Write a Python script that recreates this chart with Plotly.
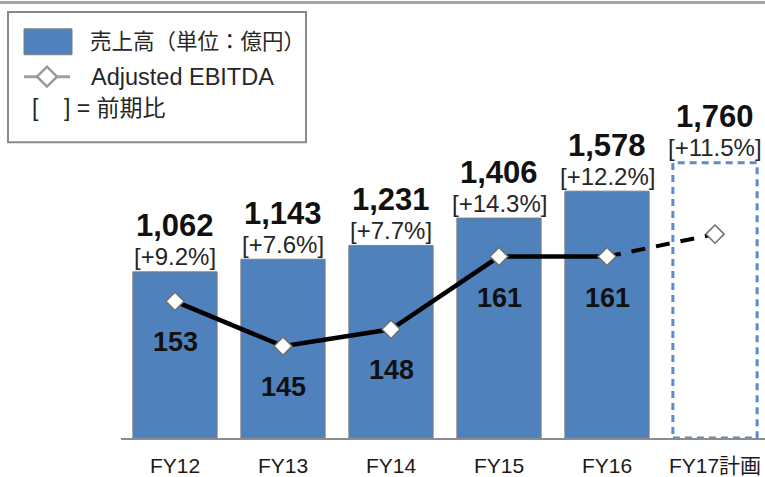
import plotly.graph_objects as go

# ---- data ----
years = ["FY12", "FY13", "FY14", "FY15", "FY16", "FY17計画"]
sales = [1062, 1143, 1231, 1406, 1578, 1760]
growth = ["+9.2%", "+7.6%", "+7.7%", "+14.3%", "+12.2%", "+11.5%"]
ebitda = [153, 145, 148, 161, 161, 165]
ebitda_shown = [True, True, True, True, True, False]
legend_labels = ["売上高（単位：億円）", "Adjusted EBITDA", "[    ] = 前期比"]

W, H = 765, 477
PLOT_B = 440  # pixel row of the x axis
FONT = "Liberation Sans, Arial, Noto Sans CJK JP, sans-serif"
BLUE = "#4f81bd"
BAR_W = 0.78
n_actual = 5


def px_x(p):
    return p / W


def px_y(p):
    return (PLOT_B - p) / PLOT_B


fig = go.Figure()

# actual sales bars
fig.add_trace(go.Bar(
    x=years[:n_actual], y=sales[:n_actual], width=BAR_W,
    marker=dict(color=BLUE, line=dict(color="#7f7f7f", width=1)),
    showlegend=False, hoverinfo="skip",
))
# invisible bar for the plan year (keeps category)
fig.add_trace(go.Bar(
    x=years[n_actual:], y=sales[n_actual:], width=BAR_W,
    marker=dict(color="rgba(0,0,0,0)", line=dict(width=0)),
    showlegend=False, hoverinfo="skip",
))

# EBITDA line: solid for actuals, dashed to plan
fig.add_trace(go.Scatter(
    x=years[:n_actual], y=ebitda[:n_actual], yaxis="y2", mode="lines",
    line=dict(color="black", width=4.5), showlegend=False, hoverinfo="skip",
))
fig.add_trace(go.Scatter(
    x=years[n_actual - 1:], y=ebitda[n_actual - 1:], yaxis="y2", mode="lines",
    line=dict(color="black", width=4, dash="14px,11px"), showlegend=False, hoverinfo="skip",
))
fig.add_trace(go.Scatter(
    x=years, y=ebitda, yaxis="y2", mode="markers",
    marker=dict(symbol="diamond", size=14, color="white",
                line=dict(color="#6e6e6e", width=1.5)),
    showlegend=False, hoverinfo="skip",
))

shapes = []
# dashed outline for the plan bar
i_plan = len(years) - 1
shapes.append(dict(type="rect", xref="x", yref="y",
                   x0=i_plan - BAR_W / 2, x1=i_plan + BAR_W / 2, y0=0, y1=sales[i_plan],
                   line=dict(color="#5a8ccb", width=3, dash="7px,5px"),
                   fillcolor="rgba(0,0,0,0)", layer="above"))

annotations = []
for i, (v, g) in enumerate(zip(sales, growth)):
    annotations.append(dict(x=years[i], y=v, xref="x", yref="y",
                            text=f"{v:,}", showarrow=False, yshift=46,
                            yanchor="middle",
                            font=dict(family=FONT, size=31, color="#111111", weight="bold")))
    annotations.append(dict(x=years[i], y=v, xref="x", yref="y",
                            text=f"[{g}]", showarrow=False, yshift=15,
                            yanchor="middle",
                            font=dict(family=FONT, size=24, color="#262626")))
for i, (e, s) in enumerate(zip(ebitda, ebitda_shown)):
    if s:
        annotations.append(dict(x=years[i], y=e, xref="x", yref="y2",
                                text=str(e), showarrow=False, yshift=-41,
                                yanchor="middle",
                                font=dict(family=FONT, size=27, color="#111111", weight="bold")))

# top frame line
shapes.append(dict(type="line", xref="paper", yref="paper",
                   x0=0, x1=1, y0=px_y(2.5), y1=px_y(2.5),
                   line=dict(color="#a3a3a3", width=3)))
# legend box
shapes.append(dict(type="rect", xref="paper", yref="paper",
                   x0=px_x(8), x1=px_x(306), y0=px_y(143), y1=px_y(12),
                   line=dict(color="#8a8a8a", width=2), fillcolor="white", layer="above"))
# legend swatch
shapes.append(dict(type="rect", xref="paper", yref="paper",
                   x0=px_x(24), x1=px_x(72), y0=px_y(55), y1=px_y(29),
                   line=dict(color="#7f7f7f", width=1), fillcolor=BLUE, layer="above"))
# legend line symbol
shapes.append(dict(type="line", xref="paper", yref="paper",
                   x0=px_x(24), x1=px_x(70), y0=px_y(77), y1=px_y(77),
                   line=dict(color="#a0a0a0", width=3), layer="above"))
cx, cy, r = 47, 77, 10
shapes.append(dict(type="path", xref="paper", yref="paper",
                   path=(f"M {px_x(cx - r)} {px_y(cy)} L {px_x(cx)} {px_y(cy - r)} "
                         f"L {px_x(cx + r)} {px_y(cy)} L {px_x(cx)} {px_y(cy + r)} Z"),
                   line=dict(color="#9a9a9a", width=2.5), fillcolor="white", layer="above"))

legend_pos = [(88, 42, 21.5), (89, 77, 23.5), (30, 108, 23)]
for t, (lx, ly, fs) in zip(legend_labels, legend_pos):
    annotations.append(dict(x=px_x(lx), y=px_y(ly), xref="paper", yref="paper",
                            xanchor="left", yanchor="middle", showarrow=False, text=t,
                            font=dict(family=FONT, size=fs, color="#262626")))

cat_px = 108
left = 121
fig.update_layout(
    width=W, height=H,
    margin=dict(l=0, r=0, t=0, b=H - PLOT_B),
    paper_bgcolor="white", plot_bgcolor="white",
    barmode="overlay",
    showlegend=False,
    xaxis=dict(domain=[left / W, 1], type="category",
               range=[-0.5, -0.5 + (W - left) / cat_px],
               showgrid=False, zeroline=False, showline=True,
               linecolor="#8c8c8c", linewidth=2, ticks="",
               tickfont=dict(family=FONT, size=21, color="#1a1a1a"),
               ticklabelstandoff=8),
    yaxis=dict(range=[0, 2800], visible=False, showgrid=False, zeroline=False),
    yaxis2=dict(range=[128.6, 206.8], overlaying="y", visible=False,
                showgrid=False, zeroline=False),
    shapes=shapes,
    annotations=annotations,
)

fig.write_html("out.html", config={"displayModeBar": False},
               post_script="document.body.style.margin='0';document.body.style.padding='0';")
